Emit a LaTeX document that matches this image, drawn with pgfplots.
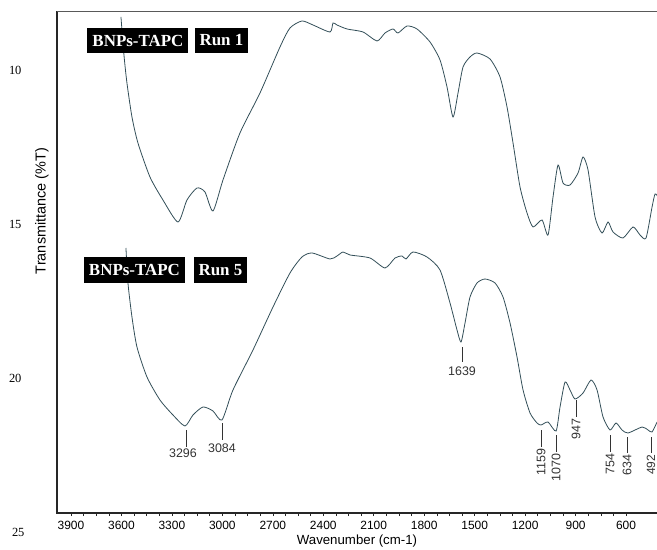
\documentclass[border=0pt]{standalone}
\usepackage{fontspec}
\setmainfont{Liberation Serif}
\setsansfont{Liberation Sans}
\usepackage{pgfplots}
\pgfplotsset{compat=1.18}
\definecolor{spec}{RGB}{50,78,88}
\begin{document}
\begin{tikzpicture}[
  annot/.style={black!80, line width=0.7bp},
  annlab/.style={font=\sffamily\fontsize{12.5}{14}\selectfont, inner sep=1.5bp},
  tagbox/.style={fill=black, text=white, font=\rmfamily\bfseries\fontsize{17}{17}\selectfont, inner xsep=5bp, inner ysep=0pt},
]
\useasboundingbox (0,0) rectangle (657bp,550bp);
\begin{axis}[
  at={(57bp,37bp)}, anchor=south west,
  scale only axis, width=600bp, height=502bp,
  x dir=reverse, y dir=reverse,
  xmin=416, xmax=3983, ymin=8.085, ymax=24.383,
  axis line style={draw=none},
  clip=false,
  xtick={600,900,...,3900},
  minor x tick num=3,
  xtick pos=bottom,
  tick align=outside,
  major tick length=3bp, minor tick length=3bp,
  every tick/.style={black!85, line width=0.6bp},
  ytick={10,15,20},
  ytick style={draw=none},
  scaled x ticks=false,
  /pgf/number format/1000 sep={},
  /pgf/number format/assume math mode=true,
  xticklabel style={font=\sffamily\fontsize{12}{14}\selectfont, yshift=-2bp},
  yticklabel style={font=\rmfamily\fontsize{12.5}{14}\selectfont, xshift=-29bp},
  xlabel={Wavenumber (cm-1)},
  xlabel style={font=\sffamily\fontsize{13.3}{15}\selectfont, at={(axis description cs:0.5,0)}, anchor=center, yshift=-28bp},
  ylabel={Transmittance (\%T)},
  ylabel style={font=\sffamily\fontsize{14.5}{16}\selectfont, at={(axis description cs:0,0.6016)}, anchor=center, yshift=15bp},
]
\begin{scope}
\clip (axis description cs:0,0) rectangle (axis description cs:1,1);
% Run 1
\addplot[spec, line width=0.8bp, smooth, tension=0.4] coordinates {
(3602.7,8.279) (3584.9,9.513) (3567.1,10.422) (3537.3,11.526) (3501.7,12.370)
(3430.3,13.474) (3353.0,14.221) (3263.8,14.935) (3210.3,14.221) (3150.8,13.831)
(3103.3,13.961) (3055.7,14.578) (2996.2,13.571) (2895.2,12.045) (2776.2,10.747)
(2657.3,9.253) (2597.9,8.636) (2526.5,8.409) (2461.1,8.539) (2360.0,8.766)
(2342.2,8.474) (2318.4,8.539) (2258.9,8.669) (2163.8,8.766) (2080.6,9.058)
(2033.0,8.799) (1985.4,8.669) (1955.7,8.799) (1902.2,8.572) (1842.7,8.669)
(1765.4,9.091) (1706.0,9.675) (1664.3,10.552) (1628.7,11.526) (1598.9,10.747)
(1569.2,9.902) (1527.6,9.578) (1486.0,9.448) (1408.7,9.643) (1349.2,10.227)
(1307.6,11.201) (1271.9,12.370) (1230.3,13.799) (1188.7,14.643) (1153.0,15.097)
(1099.5,14.870) (1063.8,15.357) (1034.1,14.123) (1004.3,13.084) (974.6,13.669)
(933.0,13.734) (885.4,13.344) (855.7,12.825) (826.0,13.247) (784.3,14.773)
(742.7,15.292) (707.0,14.935) (677.3,15.260) (617.8,15.454) (558.4,15.097)
(516.8,15.357) (481.1,15.454) (445.4,14.448) (427.6,14.026) (409.7,14.123)
};
% Run 5
\addplot[spec, line width=0.8bp, smooth, tension=0.4] coordinates {
(3573.0,15.779) (3561.1,16.915) (3537.3,18.019) (3507.6,18.993) (3448.1,19.967)
(3370.8,20.714) (3293.5,21.201) (3222.2,21.558) (3174.6,21.201) (3115.2,20.941)
(3055.7,21.071) (3002.2,21.363) (2936.8,20.389) (2817.9,19.091) (2698.9,17.695)
(2597.9,16.591) (2526.5,16.071) (2467.0,15.941) (2360.0,16.136) (2318.4,16.039)
(2282.7,15.909) (2241.1,16.006) (2122.2,16.104) (2033.0,16.428) (1973.5,16.104)
(1931.9,16.039) (1908.1,16.136) (1866.5,15.909) (1783.3,16.071) (1706.0,16.493)
(1646.5,17.565) (1604.9,18.441) (1581.1,18.831) (1557.3,18.214) (1527.6,17.370)
(1486.0,16.915) (1438.4,16.786) (1378.9,16.915) (1331.4,17.370) (1289.7,18.214)
(1248.1,19.318) (1212.4,20.389) (1170.8,21.136) (1129.2,21.461) (1105.4,21.526)
(1063.8,21.429) (1016.2,21.721) (992.4,20.941) (962.7,20.130) (933.0,20.389)
(903.3,20.682) (855.7,20.487) (808.1,20.065) (772.4,20.389) (736.8,21.266)
(695.1,21.688) (659.5,21.461) (623.8,21.688) (588.1,21.786) (504.9,21.591)
(469.2,21.688) (445.4,21.753) (415.7,21.429)
};
\end{scope}
% frame
\draw[black!85, line width=1.2bp] (axis description cs:1,0) -- (axis description cs:0,0) -- (axis description cs:0,1);
\draw[black!65, line width=0.8bp] (axis description cs:0,1) -- (axis description cs:1,1);
% extra y label 25 (below the axis)
\node[anchor=east, font=\rmfamily\fontsize{12.5}{14}\selectfont, inner sep=0.333em, xshift=-29bp] at (axis cs:3983,25) {25};
% sample labels
\node[tagbox, minimum height=25bp] at (axis cs:3501.7,9.042) {BNPs-TAPC};
\node[tagbox, minimum height=25bp] at (axis cs:3005.2,9.042) {Run 1};
\node[tagbox, minimum height=26bp] at (axis cs:3522.5,16.494) {BNPs-TAPC};
\node[tagbox, minimum height=26bp] at (axis cs:3011.1,16.494) {Run 5};
% peak annotations
\draw[annot] (axis cs:1575.1,18.994) -- (axis cs:1575.1,19.481) node[annlab, anchor=north, yshift=-3bp] {1639};
\draw[annot] (axis cs:3216.2,21.689) -- (axis cs:3216.2,22.241) node[annlab, anchor=north, xshift=-3bp] {3296};
\draw[annot] (axis cs:3002.2,21.461) -- (axis cs:3002.2,22.013) node[annlab, anchor=north, yshift=-2bp] {3084};
\draw[annot] (axis cs:1105.4,21.689) -- (axis cs:1105.4,22.241) node[annlab, anchor=east, rotate=90] {1159};
\draw[annot] (axis cs:1016.2,21.851) -- (axis cs:1016.2,22.403) node[annlab, anchor=east, rotate=90] {1070};
\draw[annot] (axis cs:897.3,20.714) -- (axis cs:897.3,21.266) node[annlab, anchor=east, rotate=90] {947};
\draw[annot] (axis cs:695.1,21.851) -- (axis cs:695.1,22.403) node[annlab, anchor=east, rotate=90] {754};
\draw[annot] (axis cs:594.1,21.916) -- (axis cs:594.1,22.436) node[annlab, anchor=east, rotate=90] {634};
\draw[annot] (axis cs:451.4,21.916) -- (axis cs:451.4,22.436) node[annlab, anchor=east, rotate=90, font=\sffamily\fontsize{12}{14}\selectfont] {492};
\end{axis}
\end{tikzpicture}
\end{document}
